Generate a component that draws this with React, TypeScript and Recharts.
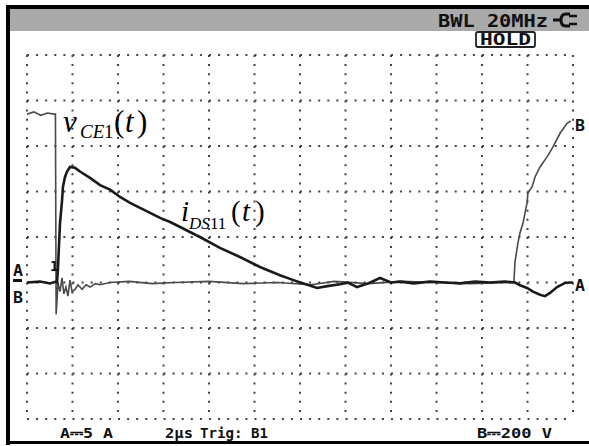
import { CartesianGrid, Line, LineChart, XAxis, YAxis } from "recharts";

// time in µs (2 µs/div), channel A current in A (5 A/div), channel B voltage in V (200 V/div)
const iDsTime = [
  0, 0.57, 1.01, 1.27, 1.32, 1.36, 1.45, 1.54, 1.58, 1.67, 1.76, 1.89, 2.11, 2.33, 2.77, 3.21,
  3.65, 4.09, 4.53, 4.97, 5.41, 5.85, 6.29, 6.73, 7.16, 7.6, 8.48, 9.36, 10.24, 11.12, 11.56, 12.0,
  12.4, 12.75, 13.2, 13.76, 14.1, 14.51, 15.0, 15.52, 16.0, 16.4, 17.0, 17.71, 18.4, 19.03, 19.7,
  20.35, 21.0, 21.45, 21.67, 21.98, 22.24, 22.55, 22.77, 22.99, 23.3, 23.65, 23.87, 24,
];
const iDsAmps = [
  0, 0.1, -0.1, 0.1, 0, 1.5, 6.5, 9, 10.5, 11.6, 12.2, 12.7, 12.6, 12.2, 11.5, 10.7,
  10.2, 9.4, 8.75, 8.2, 7.65, 7.1, 6.65, 6.1, 5.55, 5.0, 3.8, 2.8, 1.7, 0.8, 0.4, 0,
  -0.3, -0.6, -0.4, -0.2, 0, -0.5, -0.1, 0.5, 0, 0.1, -0.1, 0.1, 0, -0.1, 0.1,
  0, 0.1, 0, -0.3, -0.6, -1.0, -1.35, -1.5, -1.15, -0.5, -0.05, 0, 0,
];

const vCeTime = [
  0, 0.3, 0.6, 0.9, 1.2, 1.25, 1.28, 1.33, 1.36, 1.45, 1.54, 1.62, 1.71, 1.8, 1.89, 1.98,
  2.11, 2.24, 2.42, 2.6, 2.77, 3.0, 3.21, 3.65, 4.5, 5.5, 6.5, 8, 9.5, 11, 12.5, 13.5, 15,
  16.5, 18, 19.5, 21.0, 21.4, 21.45, 21.58, 21.67, 21.8, 21.98, 22.02, 22.2, 22.33, 22.55,
  22.86, 23.12, 23.43, 23.74, 23.9,
];
const vCeVolts = [
  740, 750, 735, 745, 740, 740, -140, -60, 0, -40, 20, -50, -20, -60, 10, -40,
  -30, -10, -30, -10, -20, -5, -10, 0, 5, -5, 0, 5, -5, 0, -10, 5, -5,
  5, 0, -5, 0, 0, 90, 174, 218, 260, 350, 394, 420, 464, 508,
  552, 596, 656, 700, 710,
];

const timeTicks = [0, 2, 4, 6, 8, 10, 12, 14, 16, 18, 20, 22, 24];
const ampTicks = [-15, -10, -5, 0, 5, 10, 15, 20, 25];

const iDsData = iDsTime.map((t, i) => ({ t, v: iDsAmps[i] }));
const vCeData = vCeTime.map((t, i) => ({ t, v: vCeVolts[i] }));

const mono = "'DejaVu Sans Mono', monospace";
const serif = "'Liberation Serif', 'Times New Roman', serif";

function Overlay() {
  return (
    <svg
      width={589}
      height={446}
      style={{ position: "absolute", left: 0, top: 0, pointerEvents: "none" }}>
      {/* frame + header bar */}
      <rect x={10} y={9} width={579} height={22} fill="#aaaaaa" />
      <rect x={6} y={5} width={583} height={4} fill="#000" />
      <rect x={6} y={5} width={4} height={440} fill="#000" />
      <rect x={6} y={441} width={583} height={3} fill="#000" />

      <g fontFamily={mono} fontWeight="bold" fill="#111">
        <text x={438} y={27} fontSize={18} textLength={110} lengthAdjust="spacingAndGlyphs">
          BWL 20MHz
        </text>
        {/* power plug icon */}
        <path d="M553 20 H562" stroke="#111" strokeWidth={3} fill="none" />
        <path d="M570 14 H566 Q561 14 561 20 Q561 26 566 26 H570" stroke="#111" strokeWidth={3} fill="none" />
        <path d="M569 16 H577 M569 24 H577" stroke="#111" strokeWidth={2.5} />

        <rect x={476} y={32} width={59} height={15} rx={2} fill="#fff" stroke="#222" strokeWidth={1.8} />
        <text x={480} y={45} fontSize={15} textLength={51} lengthAdjust="spacingAndGlyphs">
          HOLD
        </text>

        <text x={60} y={438} fontSize={14} textLength={53} lengthAdjust="spacingAndGlyphs">
          A⎓5 A
        </text>
        <text x={165} y={438} fontSize={14} textLength={28} lengthAdjust="spacingAndGlyphs">
          2µs
        </text>
        <text x={200} y={438} fontSize={14} textLength={68} lengthAdjust="spacingAndGlyphs">
          Trig: B1
        </text>
        <text x={477} y={438} fontSize={14} textLength={75} lengthAdjust="spacingAndGlyphs">
          B⎓200 V
        </text>

        {/* channel markers */}
        <text x={13} y={276} fontSize={16} textLength={10} lengthAdjust="spacingAndGlyphs">A</text>
        <rect x={13} y={279} width={9} height={3} fill="#111" />
        <text x={13} y={303} fontSize={16} textLength={10} lengthAdjust="spacingAndGlyphs">B</text>
        <text x={575} y={291} fontSize={16} textLength={10} lengthAdjust="spacingAndGlyphs">A</text>
        <text x={575} y={131} fontSize={16} textLength={10} lengthAdjust="spacingAndGlyphs">B</text>
        <text x={50} y={271} fontSize={14}>1</text>
      </g>

      <text fontFamily={serif} fill="#000">
        <tspan x={63} y={132} fontSize={31} fontStyle="italic">v</tspan>
        <tspan x={80} y={138} fontSize={19} fontStyle="italic">CE</tspan>
        <tspan x={104} y={138} fontSize={19}>1</tspan>
        <tspan x={114} y={132} fontSize={31}>(</tspan>
        <tspan x={125} y={132} fontSize={31} fontStyle="italic">t</tspan>
        <tspan x={137} y={132} fontSize={31}>)</tspan>
      </text>
      <text fontFamily={serif} fill="#000">
        <tspan x={181} y={221} fontSize={29} fontStyle="italic">i</tspan>
        <tspan x={189} y={229} fontSize={17} fontStyle="italic">DS</tspan>
        <tspan x={210} y={229} fontSize={17}>11</tspan>
        <tspan x={231} y={221} fontSize={29}>(</tspan>
        <tspan x={242} y={221} fontSize={29} fontStyle="italic">t</tspan>
        <tspan x={255} y={221} fontSize={29}>)</tspan>
      </text>
    </svg>
  );
}

export default function App() {
  return (
    <div style={{ position: "absolute", left: 0, top: 0, width: 589, height: 446, background: "#fff" }}>
      <LineChart width={589} height={446} margin={{ top: 55, right: 16, bottom: 27, left: 27 }}>
        <CartesianGrid stroke="#444" strokeWidth={2} strokeDasharray="2 7.1" />
        <XAxis dataKey="t" type="number" domain={[0, 24]} ticks={timeTicks} allowDataOverflow hide />
        <YAxis type="number" domain={[-15, 25]} ticks={ampTicks} allowDataOverflow hide />
        <YAxis yAxisId="B" type="number" domain={[-600, 1000]} allowDataOverflow hide />
        <Line
          data={vCeData}
          yAxisId="B"
          dataKey="v"
          type="linear"
          stroke="#4a4a4a"
          strokeWidth={1.6}
          dot={false}
          isAnimationActive={false}
        />
        <Line
          data={iDsData}
          dataKey="v"
          type="linear"
          stroke="#1a1a1a"
          strokeWidth={2.6}
          dot={false}
          isAnimationActive={false}
        />
      </LineChart>
      <Overlay />
    </div>
  );
}
